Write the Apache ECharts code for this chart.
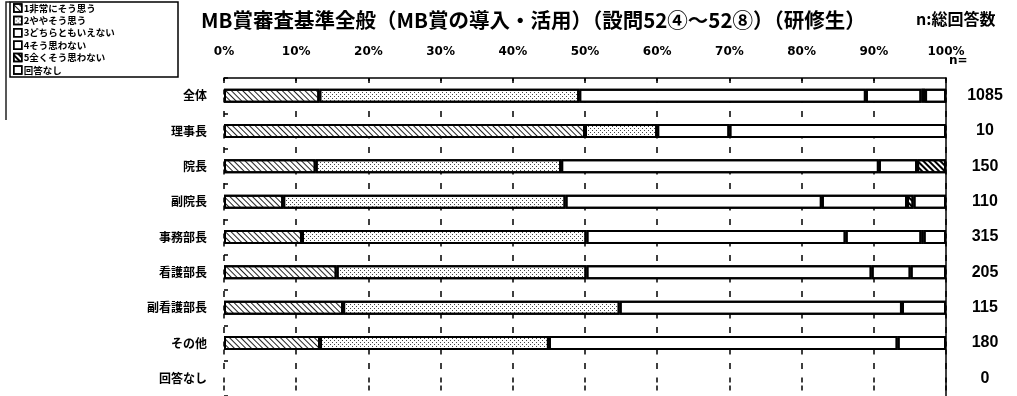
<!DOCTYPE html>
<html>
<head>
<meta charset="utf-8">
<script src="https://cdn.jsdelivr.net/npm/echarts@6/dist/echarts.min.js"></script>
<style>
  html, body { margin: 0; padding: 0; background: #fff; }
  #chart { width: 1017px; height: 396px; }
</style>
</head>
<body>
<div id="chart"></div>
<script>
// Respondent groups (rows, top to bottom) and their total respondent counts
const categories = ['全体', '理事長', '院長', '副院長', '事務部長', '看護部長', '副看護部長', 'その他', '回答なし'];
const respondentCounts = ['1085', '10', '150', '110', '315', '205', '115', '180', '0'];

// Answer choices, in stacking order
const answerLabels = ['1非常にそう思う', '2ややそう思う', '3どちらともいえない', '4そう思わない', '5全くそう思わない', '回答なし'];

// Share of each answer per group (%)
const strongAgree    = [13.2, 50, 12.7,  8.2, 10.8, 15.6, 16.5, 13.3, 0];
const agree          = [36.0, 10, 34.0, 39.1, 39.4, 34.6, 38.3, 31.7, 0];
const neutral        = [39.7, 10, 44.0, 35.5, 35.9, 39.5, 39.1, 48.3, 0];
const disagree       = [ 7.7, 30,  5.3, 11.8, 10.5,  5.4,  0,    0,   0];
const strongDisagree = [ 0.5,  0,  4.0,  0.9,  0.3,  0,    0,    0,   0];
const noAnswer       = [ 2.9,  0,  0,    4.5,  3.1,  4.9,  6.1,  6.7, 0];

// Percentage axis tick labels
const tickLabels = ['0%', '10%', '20%', '30%', '40%', '50%', '60%', '70%', '80%', '90%', '100%'];

const answerValues = [strongAgree, agree, neutral, disagree, strongDisagree, noAnswer];

// Monochrome fill patterns for each answer segment
const fills = [
  { symbol: 'rect', symbolSize: 1, color: '#222', dashArrayX: [1, 0], dashArrayY: [1, 3], rotation: Math.PI / 4 },
  { symbol: 'rect', symbolSize: 1, color: '#444', dashArrayX: [[1, 3], [0, 2, 1, 1]], dashArrayY: [1, 1] },
  null,
  null,
  { symbol: 'rect', symbolSize: 1, color: '#000', dashArrayX: [1, 0], dashArrayY: [2, 2], rotation: Math.PI / 4 },
  null
];

const series = answerLabels.map((name, i) => ({
  name: name,
  type: 'bar',
  stack: 'share',
  barWidth: 14,
  xAxisIndex: 0,
  yAxisIndex: 0,
  silent: true,
  itemStyle: {
    color: '#fff',
    borderColor: '#000',
    borderWidth: 2,
    decal: fills[i] || { symbol: 'none' }
  },
  emphasis: { disabled: true },
  data: answerValues[i].map(v => (v > 0 ? v : '-'))
}));

const chart = echarts.init(document.getElementById('chart'), null, { renderer: 'canvas' });

chart.setOption({
  animation: false,
  backgroundColor: '#fff',
  grid: { left: 224, top: 78, width: 722, height: 324, containLabel: false },
  legend: {
    data: answerLabels,
    orient: 'vertical',
    left: 13,
    top: 3,
    padding: 0,
    itemWidth: 8,
    itemHeight: 8,
    itemGap: 2.4,
    selectedMode: false,
    icon: 'rect',
    itemStyle: { borderWidth: 1.5, borderColor: '#000' },
    textStyle: { fontFamily: 'Noto Sans CJK JP', fontWeight: 'bold', fontSize: 9.5, lineHeight: 10, color: '#000', padding: [0, 0, 0, -3] }
  },
  xAxis: [{
    type: 'value',
    position: 'top',
    min: 0,
    max: 100,
    interval: 10,
    axisLine: { show: true, lineStyle: { color: '#000', width: 1.5 } },
    axisTick: { show: true, inside: true, length: 5, lineStyle: { color: '#000', width: 1.5 } },
    axisLabel: {
      margin: 20,
      formatter: v => tickLabels[Math.round(v / 10)],
      fontFamily: 'DejaVu Sans',
      fontWeight: 'bold',
      fontSize: 12,
      color: '#000'
    },
    splitLine: {
      show: true,
      lineStyle: { color: '#000', width: 1.5, type: [6, 8.5, 5, 3, 5, 8.5], dashOffset: 3 }
    }
  }],
  yAxis: [{
    type: 'category',
    inverse: true,
    position: 'left',
    data: categories,
    axisLine: { show: false },
    axisTick: { show: true, inside: true, length: 4, lineStyle: { color: '#000', width: 1.5 } },
    axisLabel: {
      margin: 17,
      fontFamily: 'Noto Sans CJK JP',
      fontWeight: 'bold',
      fontSize: 12,
      color: '#000'
    }
  }, {
    type: 'category',
    inverse: true,
    position: 'right',
    data: respondentCounts,
    axisLine: { show: true, lineStyle: { color: '#000', width: 1.5 } },
    axisTick: { show: false },
    axisLabel: {
      margin: 39,
      align: 'center',
      fontFamily: 'Liberation Sans',
      fontWeight: 'bold',
      fontSize: 16,
      color: '#000'
    }
  }],
  graphic: [
    {
      type: 'text', left: 201, top: 10, silent: true,
      style: { text: 'MB賞審査基準全般（MB賞の導入・活用）（設問52④～52⑧）（研修生）', font: 'bold 20.5px "Noto Sans CJK JP"', fill: '#000' }
    },
    {
      type: 'text', left: 916, top: 11, silent: true,
      style: { text: 'n:総回答数', font: 'bold 16px "Noto Sans CJK JP"', fill: '#000' }
    },
    {
      type: 'text', left: 949, top: 55, silent: true,
      style: { text: 'n=', font: 'bold 12px "DejaVu Sans"', fill: '#000' }
    },
    {
      type: 'rect', silent: true,
      shape: { x: 10, y: 2, width: 168, height: 75 },
      style: { fill: 'none', stroke: '#000', lineWidth: 1.5 }
    },
    {
      type: 'polyline', silent: true,
      shape: { points: [[6, 120], [6, 2], [10, 2]] },
      style: { fill: 'none', stroke: '#222', lineWidth: 1.5 }
    }
  ],
  series: series
});
</script>
</body>
</html>
